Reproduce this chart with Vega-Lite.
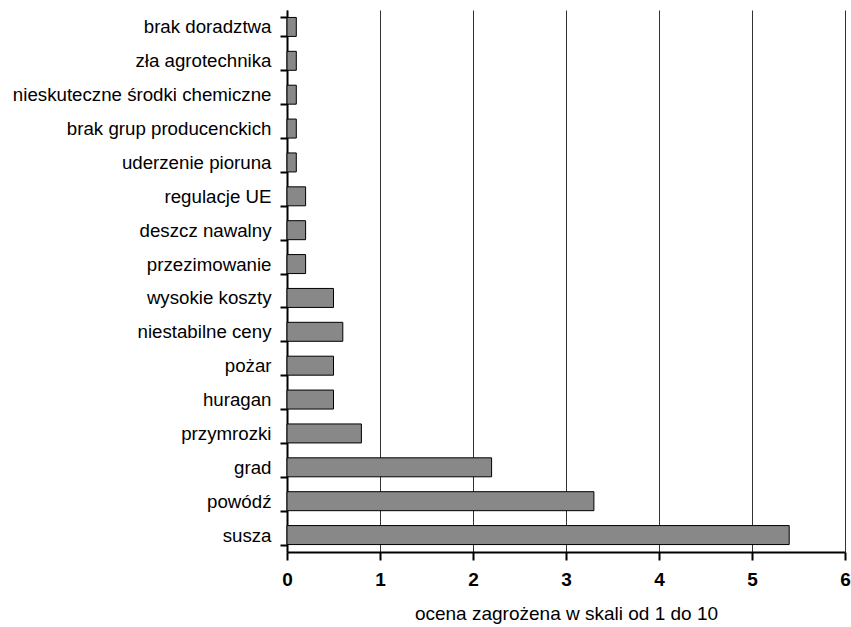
{
  "$schema": "https://vega.github.io/schema/vega-lite/v6.json",
  "autosize": {"type": "none"},
  "padding": {"left": 287, "top": 10, "right": 6, "bottom": 75},
  "width": 558,
  "height": 542,
  "background": "white",
  "data": {
    "values": [
      {"kategoria": "brak doradztwa", "ocena": 0.1},
      {"kategoria": "zła agrotechnika", "ocena": 0.1},
      {"kategoria": "nieskuteczne środki chemiczne", "ocena": 0.1},
      {"kategoria": "brak grup producenckich", "ocena": 0.1},
      {"kategoria": "uderzenie pioruna", "ocena": 0.1},
      {"kategoria": "regulacje UE", "ocena": 0.2},
      {"kategoria": "deszcz nawalny", "ocena": 0.2},
      {"kategoria": "przezimowanie", "ocena": 0.2},
      {"kategoria": "wysokie koszty", "ocena": 0.5},
      {"kategoria": "niestabilne ceny", "ocena": 0.6},
      {"kategoria": "pożar", "ocena": 0.5},
      {"kategoria": "huragan", "ocena": 0.5},
      {"kategoria": "przymrozki", "ocena": 0.8},
      {"kategoria": "grad", "ocena": 2.2},
      {"kategoria": "powódź", "ocena": 3.3},
      {"kategoria": "susza", "ocena": 5.4}
    ]
  },
  "config": {
    "view": {"stroke": null},
    "font": "Liberation Sans"
  },
  "mark": {"type": "bar", "fill": "#888888", "stroke": "black", "strokeWidth": 1},
  "encoding": {
    "y": {
      "field": "kategoria",
      "type": "nominal",
      "sort": null,
      "scale": {"paddingInner": 0.44, "paddingOuter": 0.22},
      "axis": {
        "title": null,
        "domainColor": "black",
        "domainWidth": 2,
        "tickBand": "extent",
        "tickColor": "black",
        "tickWidth": 2,
        "tickSize": 7,
        "labelPadding": 9,
        "labelFont": "Liberation Sans",
        "labelFontSize": 18.7,
        "labelColor": "black",
        "labelLimit": 400,
        "grid": false
      }
    },
    "x": {
      "field": "ocena",
      "type": "quantitative",
      "scale": {"domain": [0, 6], "nice": false},
      "axis": {
        "values": [0, 1, 2, 3, 4, 5, 6],
        "format": "d",
        "title": "ocena zagrożena w skali od 1 do 10",
        "titleFont": "Liberation Sans",
        "titleFontSize": 19,
        "titleFontWeight": "normal",
        "titleColor": "black",
        "titlePadding": 15,
        "labelFont": "Liberation Sans",
        "labelFontSize": 19,
        "labelFontWeight": "bold",
        "labelColor": "black",
        "labelPadding": 10,
        "labelFlush": false,
        "domainColor": "black",
        "domainWidth": 2,
        "tickColor": "black",
        "tickWidth": 2,
        "tickSize": 8,
        "grid": true,
        "gridColor": "#333333",
        "gridWidth": 1
      }
    }
  }
}
